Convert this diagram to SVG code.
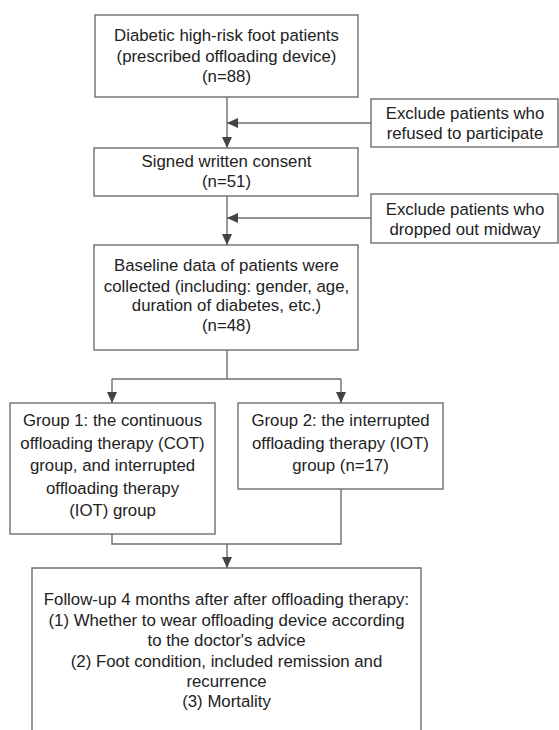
<svg xmlns="http://www.w3.org/2000/svg" width="559" height="730" viewBox="0 0 559 730">
<defs>
<style>
.box{fill:#fff;stroke:#6e6e6e;stroke-width:1.4}
.ln{fill:none;stroke:#6e6e6e;stroke-width:1.4}
text{font-family:"Liberation Sans",Arial,sans-serif;font-size:16.8px;fill:#222;text-anchor:middle}
</style>
<marker id="ah" markerUnits="userSpaceOnUse" markerWidth="11" markerHeight="10" viewBox="0 0 11 10" refX="11" refY="5" orient="auto">
<path d="M0,0 L11,5 L0,10 z" fill="#444"/>
</marker>
</defs>
<rect width="559" height="730" fill="#fff"/>
<g id="connectors">
<line class="ln" x1="227" y1="97" x2="227" y2="148" marker-end="url(#ah)"/>
<line class="ln" x1="371" y1="123" x2="227" y2="123" marker-end="url(#ah)"/>
<line class="ln" x1="227" y1="196" x2="227" y2="245" marker-end="url(#ah)"/>
<line class="ln" x1="371" y1="218" x2="227" y2="218" marker-end="url(#ah)"/>
<polyline class="ln" points="227,350 227,379"/>
<polyline class="ln" points="112,379 341,379"/>
<line class="ln" x1="112" y1="379" x2="112" y2="403" marker-end="url(#ah)"/>
<line class="ln" x1="341" y1="379" x2="341" y2="403" marker-end="url(#ah)"/>
<polyline class="ln" points="112,534 112,544 341,544 341,489"/>
<line class="ln" x1="227" y1="544" x2="227" y2="568" marker-end="url(#ah)"/>
</g>
<g id="n1">
<rect class="box" x="95" y="15" width="263" height="82"/>
<text x="226.5" y="41">Diabetic high-risk foot patients</text>
<text x="226.5" y="62">(prescribed offloading device)</text>
<text x="226.5" y="82">(n=88)</text>
</g>
<g id="ex1">
<rect class="box" x="371" y="99" width="187" height="48"/>
<text x="465" y="119">Exclude patients who</text>
<text x="465" y="139">refused to participate</text>
</g>
<g id="n2">
<rect class="box" x="94" y="148" width="264" height="48"/>
<text x="226.5" y="167">Signed written consent</text>
<text x="226.5" y="187">(n=51)</text>
</g>
<g id="ex2">
<rect class="box" x="371" y="194" width="187" height="49"/>
<text x="465" y="215">Exclude patients who</text>
<text x="465" y="235">dropped out midway</text>
</g>
<g id="n3">
<rect class="box" x="94" y="245" width="264" height="105"/>
<text x="226.5" y="271">Baseline data of patients were</text>
<text x="226.5" y="291.5">collected (including: gender, age,</text>
<text x="226.5" y="311">duration of diabetes, etc.)</text>
<text x="226.5" y="331">(n=48)</text>
</g>
<g id="g1">
<rect class="box" x="10" y="403" width="205" height="131"/>
<text x="112.5" y="426">Group 1: the continuous</text>
<text x="112.5" y="448.5">offloading therapy (COT)</text>
<text x="112.5" y="471">group, and interrupted</text>
<text x="112.5" y="493.5">offloading therapy</text>
<text x="112.5" y="516">(IOT) group</text>
</g>
<g id="g2">
<rect class="box" x="238" y="403" width="205" height="86"/>
<text x="340.5" y="426">Group 2: the interrupted</text>
<text x="340.5" y="448.5">offloading therapy (IOT)</text>
<text x="340.5" y="471">group (n=17)</text>
</g>
<g id="n4">
<path class="ln" d="M32,732 L32,568 L421,568 L421,732"/>
<text x="226.5" y="605">Follow-up 4 months after after offloading therapy:</text>
<text x="226.5" y="625.5">(1) Whether to wear offloading device according</text>
<text x="226.5" y="646">to the doctor's advice</text>
<text x="226.5" y="666.5">(2) Foot condition, included remission and</text>
<text x="226.5" y="687">recurrence</text>
<text x="226.5" y="707">(3) Mortality</text>
</g>
</svg>
